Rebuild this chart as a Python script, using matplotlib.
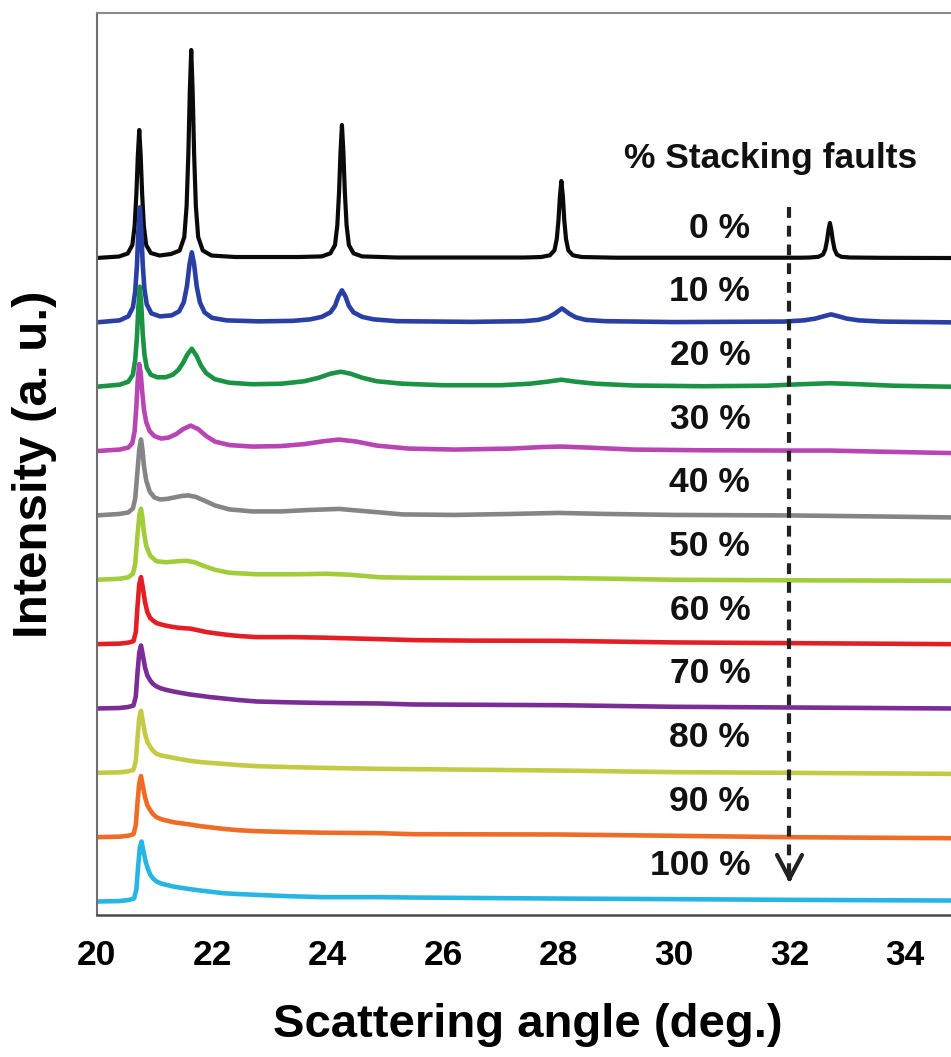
import numpy as np
import matplotlib
matplotlib.use("Agg")
import matplotlib.pyplot as plt

plt.rcParams['font.family'] = ['Liberation Sans', 'DejaVu Sans']
plt.rcParams['font.weight'] = 'bold'

# simulated patterns, (2theta, intensity above the curve's own baseline)
sf_00 = [(20.00, 0), (20.39, 1.5), (20.54, 4.5), (20.62, 13), (20.66, 32), (20.69, 64),
         (20.715, 102), (20.74, 128), (20.765, 102), (20.79, 64), (20.82, 32), (20.86, 13),
         (20.94, 5), (21.09, 2.5), (21.29, 4), (21.44, 7.5), (21.52, 21), (21.56, 52),
         (21.59, 104), (21.615, 166), (21.64, 208), (21.665, 166), (21.69, 104), (21.72, 52),
         (21.76, 21), (21.84, 7.5), (21.99, 2.5), (22.40, 1), (23.50, 1), (23.90, 1.6),
         (24.05, 4.7), (24.13, 13), (24.17, 33), (24.20, 66), (24.225, 106), (24.25, 133),
         (24.275, 106), (24.30, 66), (24.33, 33), (24.37, 13), (24.45, 4.7), (24.60, 1.6),
         (25.20, 0.5), (27.40, 0.5), (27.70, 1), (27.85, 2.7), (27.93, 7.7), (27.97, 19),
         (28.00, 38), (28.025, 62), (28.05, 77), (28.075, 62), (28.10, 38), (28.13, 19),
         (28.17, 7.7), (28.25, 2.7), (28.40, 1), (29.00, 0.3), (32.20, 0.3), (32.35, 0.5),
         (32.50, 1.2), (32.58, 3.5), (32.62, 8.7), (32.65, 17.5), (32.675, 28), (32.70, 35),
         (32.725, 28), (32.75, 17.5), (32.78, 8.7), (32.82, 3.5), (32.90, 1.2), (33.05, 0.5),
         (33.60, 0.2), (34.80, 0)]
sf_10 = [(20.00, 0), (20.40, 2), (20.55, 6), (20.63, 15), (20.67, 31), (20.70, 57),
         (20.725, 92), (20.75, 115), (20.775, 92), (20.80, 58), (20.83, 33), (20.87, 18),
         (20.95, 9), (21.10, 6), (21.30, 7), (21.43, 11), (21.51, 20), (21.565, 36),
         (21.61, 58), (21.65, 70), (21.69, 58), (21.735, 36), (21.79, 20), (21.87, 10),
         (22.00, 4.5), (22.25, 2), (22.80, 1), (23.40, 1.5), (23.70, 3), (23.90, 5.5),
         (24.05, 10), (24.13, 16.5), (24.19, 26), (24.25, 32), (24.31, 26), (24.37, 16.5),
         (24.45, 10), (24.60, 5.5), (24.80, 3), (25.20, 1.2), (26.50, 0.5), (27.40, 1.2),
         (27.65, 2.5), (27.82, 5), (27.93, 8.5), (28.06, 14), (28.19, 8.5), (28.30, 5),
         (28.47, 2.5), (28.80, 1.2), (30.00, 0.3), (31.90, 0.8), (32.25, 2), (32.45, 3.8),
         (32.60, 6.2), (32.72, 8), (32.84, 6.2), (32.99, 3.8), (33.20, 2), (33.60, 0.8),
         (34.80, 0)]
sf_20 = [(20.00, 0), (20.40, 2), (20.55, 5), (20.63, 12), (20.67, 27), (20.70, 50),
         (20.725, 80), (20.75, 100), (20.775, 82), (20.80, 53), (20.83, 32), (20.87, 19),
         (20.94, 12), (21.05, 9.5), (21.20, 9.5), (21.32, 12), (21.42, 17), (21.50, 24),
         (21.57, 32), (21.65, 38), (21.73, 31), (21.81, 21), (21.90, 13.5), (22.05, 7.5),
         (22.30, 4), (22.70, 2.5), (23.20, 3), (23.60, 5.5), (23.85, 9), (24.05, 13),
         (24.23, 15), (24.40, 13), (24.60, 9), (24.85, 5.5), (25.30, 3), (26.00, 1.5),
         (27.00, 1.5), (27.50, 3), (27.80, 5), (28.05, 7), (28.30, 5), (28.65, 3),
         (29.30, 1.2), (30.50, 0.5), (31.60, 1), (32.20, 2.5), (32.70, 3.5), (33.20, 2.5),
         (33.80, 1), (34.80, 0)]
sf_30 = [(20.00, 0), (20.40, 1.5), (20.55, 3.5), (20.62, 8), (20.66, 20), (20.69, 45),
         (20.715, 72), (20.74, 87), (20.765, 78), (20.79, 60), (20.82, 42), (20.86, 29),
         (20.92, 20), (21.00, 15), (21.12, 12.5), (21.25, 13.5), (21.38, 17), (21.50, 22),
         (21.63, 25.5), (21.76, 22), (21.90, 15), (22.05, 9.5), (22.30, 6), (22.70, 4.5),
         (23.20, 5), (23.60, 7), (23.95, 10), (24.20, 11.5), (24.50, 9.5), (24.85, 5.5),
         (25.40, 2.5), (26.20, 1.5), (27.20, 2.5), (27.70, 4), (28.05, 4.5), (28.50, 3.5),
         (29.30, 1.5), (30.50, 0.8), (32.00, 0.5), (32.70, 0.5), (33.50, -0.5), (34.80, -2)]
sf_40 = [(20.00, 0), (20.40, 1.5), (20.55, 3), (20.63, 7), (20.67, 17), (20.71, 45),
         (20.74, 66), (20.77, 76), (20.795, 66), (20.82, 50), (20.86, 35), (20.92, 24),
         (21.00, 18), (21.10, 16), (21.22, 16.5), (21.35, 18), (21.48, 19.5), (21.59, 20),
         (21.72, 18.5), (21.88, 14.5), (22.05, 10), (22.30, 6), (22.70, 4), (23.20, 4),
         (23.70, 5.5), (24.20, 6.5), (24.70, 4), (25.30, 1), (26.20, 0.5), (27.20, 1.5),
         (28.00, 2.5), (28.80, 1.5), (30.00, 0.5), (32.00, 0), (33.50, -1), (34.80, -2)]
sf_50 = [(20.00, 0), (20.40, 1), (20.55, 2.5), (20.63, 6), (20.67, 16), (20.71, 45),
         (20.745, 66), (20.77, 71), (20.795, 62), (20.82, 48), (20.86, 34), (20.93, 24),
         (21.04, 18.5), (21.20, 17.5), (21.40, 18.5), (21.56, 19), (21.70, 17.5),
         (21.85, 14), (22.05, 10), (22.30, 7), (22.77, 5.5), (23.40, 5.5), (24.00, 6),
         (24.40, 5), (24.90, 2.5), (25.50, 2), (26.50, 1.8), (28.00, 1.8), (29.00, 1),
         (30.00, 0), (32.00, -0.5), (34.80, -1)]
sf_60 = [(20.00, 0), (20.40, 0.5), (20.55, 1.5), (20.64, 3), (20.68, 12), (20.71, 38),
         (20.74, 60), (20.77, 67), (20.80, 57), (20.84, 42), (20.88, 32), (20.93, 26),
         (20.98, 23.5), (21.04, 21), (21.12, 19.7), (21.20, 18.5), (21.30, 17.4),
         (21.40, 16.5), (21.50, 16), (21.62, 15.5), (21.75, 14), (21.91, 12), (22.10, 10.5),
         (22.31, 9), (22.50, 8), (22.77, 7), (23.10, 7), (23.40, 7), (23.92, 6.5),
         (24.90, 5), (25.50, 4), (26.50, 3.5), (28.00, 3.3), (30.00, 1.7), (32.00, 1),
         (34.80, 0)]
sf_70 = [(20.00, 0), (20.40, 0.5), (20.55, 1.5), (20.64, 3), (20.68, 12), (20.71, 36),
         (20.74, 56), (20.77, 63), (20.80, 54), (20.84, 41), (20.88, 33), (20.93, 28),
         (20.98, 24.5), (21.04, 22), (21.12, 20), (21.20, 18.7), (21.33, 17), (21.45, 15.7),
         (21.62, 14), (21.80, 12.7), (21.95, 11.5), (22.20, 10), (22.45, 8.5), (22.77, 7),
         (23.30, 6.2), (23.92, 5.5), (24.90, 5), (25.50, 4), (28.00, 3.3), (30.00, 1.7),
         (32.00, 1), (34.80, 0)]
sf_80 = [(20.00, 0), (20.40, 0.5), (20.55, 1.5), (20.64, 3), (20.68, 12), (20.71, 35),
         (20.74, 55), (20.77, 62), (20.80, 52), (20.84, 39), (20.88, 31), (20.93, 26),
         (20.98, 22), (21.04, 19), (21.12, 17.4), (21.20, 16.5), (21.33, 15), (21.45, 13.7),
         (21.62, 12), (21.80, 10.8), (21.95, 10), (22.20, 9), (22.45, 7.8), (22.77, 6.7),
         (23.30, 5.8), (23.92, 5), (24.90, 4), (25.50, 3.7), (28.00, 2.3), (30.00, 0.7),
         (32.00, 0), (34.80, -1)]
sf_90 = [(20.00, 0), (20.40, 0.5), (20.55, 1.5), (20.64, 3), (20.68, 12), (20.71, 35),
         (20.74, 54), (20.77, 61), (20.80, 52), (20.84, 40), (20.88, 32), (20.93, 27),
         (20.98, 23), (21.04, 20), (21.12, 18), (21.20, 16.8), (21.33, 15), (21.45, 14),
         (21.62, 12.7), (21.80, 11), (21.95, 10), (22.20, 8.3), (22.45, 7), (22.77, 6),
         (23.30, 5.2), (23.92, 4.5), (24.90, 4), (25.50, 3), (28.00, 2.7), (30.00, 1.4),
         (32.00, 0), (34.80, -1)]
sf_100 = [(20.00, 0), (20.40, 0.5), (20.55, 1.5), (20.65, 3), (20.69, 12), (20.72, 35),
          (20.75, 54), (20.78, 60), (20.81, 51), (20.85, 40), (20.89, 32.5), (20.93, 27),
          (20.98, 23), (21.04, 20), (21.12, 18), (21.20, 16.8), (21.33, 15), (21.45, 13.9),
          (21.62, 12.4), (21.80, 11), (21.95, 10), (22.20, 8.3), (22.45, 7.5), (22.77, 6.7),
          (23.30, 5.4), (23.92, 4.4), (24.90, 4.4), (25.50, 4), (28.00, 3), (30.00, 2.4),
          (32.00, 1.7), (34.80, 1)]

patterns = [sf_00, sf_10, sf_20, sf_30, sf_40, sf_50, sf_60, sf_70, sf_80, sf_90, sf_100]
labels = ['0 %', '10 %', '20 %', '30 %', '40 %', '50 %', '60 %', '70 %', '80 %', '90 %', '100 %']
colors = ['#0a0a0a', '#2a3fa3', '#1a9345', '#b944b4', '#858585', '#a3cc3a',
          '#e31e25', '#7a2d96', '#c3cb44', '#ee6c25', '#27b6e4']
xticks = [20, 22, 24, 26, 28, 30, 32, 34]

spacing = 64.35  # vertical offset between stacked patterns

fig = plt.figure(figsize=(9.51, 10.57), dpi=100)
ax = fig.add_axes([0.1015, 0.1343, 0.8985, 0.8534])

n = len(patterns)
for i, (pat, col) in enumerate(zip(patterns, colors)):
    arr = np.array(pat)
    lw = 3.0 if i == 0 else 3.3
    ax.plot(arr[:, 0], arr[:, 1] + spacing * (n - 1 - i), color=col, lw=lw,
            solid_joinstyle='round', solid_capstyle='butt')

ax.set_xlim(20, 34.797)
ax.set_ylim(-13.5, 888.5)

# series labels
label_y = 901.5 - np.linspace(228, 865, n)
for lab, yy in zip(labels, label_y):
    ax.text(31.32, yy, lab, ha='right', va='center', fontsize=25.5, fontweight='bold',
            color='#111111')
ax.text(31.68, 901.5 - 158, '% Stacking faults', ha='center', va='center',
        fontsize=25.5, fontweight='bold', color='#111111')

# dashed arrow: increasing fault density
ax.plot([32, 32], [901.5 - 207, 901.5 - 878], color='#222222', lw=3.0,
        linestyle=(0, (2.6, 1.9)), dash_capstyle='butt')
ax.annotate('', xy=(32, 901.5 - 883), xytext=(32, 901.5 - 875),
            arrowprops=dict(arrowstyle='->,head_length=0.85,head_width=0.45',
                            color='#222222', lw=3.0, mutation_scale=20,
                            shrinkA=0, shrinkB=0))

ax.set_xticks(xticks)
ax.set_xticklabels([str(t) for t in xticks], fontsize=25.5, fontweight='bold')
ax.tick_params(axis='x', length=0, pad=17)
ax.set_yticks([])

ax.spines['right'].set_visible(False)
ax.spines['left'].set_color('#6e6e6e')
ax.spines['top'].set_color('#8a8a8a')
ax.spines['bottom'].set_color('#4a4a4a')
for s in ['left', 'top']:
    ax.spines[s].set_linewidth(1.5)
ax.spines['bottom'].set_linewidth(1.8)

ax.set_xlabel('Scattering angle (deg.)', fontsize=34, fontweight='bold')
ax.xaxis.set_label_coords(0.505, -0.0975)
ax.set_ylabel('Intensity (a. u.)', fontsize=35.5, fontweight='bold')
ax.yaxis.label.set_va('center')
ax.yaxis.set_label_coords(-0.0731, 0.5)

fig.savefig('out.png', dpi=100)
